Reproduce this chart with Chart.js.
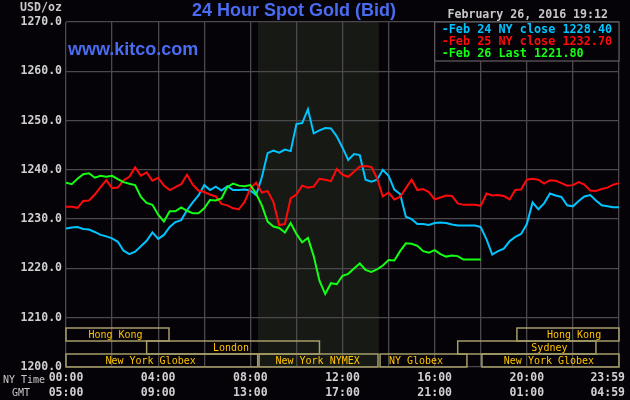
<!DOCTYPE html>
<html>
<head>
<meta charset="utf-8">
<script src="https://cdn.jsdelivr.net/npm/chart.js@4.4.1/dist/chart.umd.min.js"></script>
<style>
  html, body { margin: 0; padding: 0; background: #050308; }
  canvas { display: block; }
</style>
</head>
<body>
<canvas id="c" width="630" height="400"></canvas>
<script>
// one reading every 15 minutes, NY time 00:00 -> 24:00
const stepHours = 0.25;

const feb24 = [
  1228.1, 1228.3, 1228.4, 1228.0, 1227.9, 1227.4, 1226.8, 1226.5, 1226.1, 1225.4,
  1223.6, 1222.9, 1223.4, 1224.5, 1225.6, 1227.3, 1226.0, 1226.8, 1228.4, 1229.4,
  1229.8, 1231.8, 1233.4, 1234.8, 1236.9, 1235.9, 1236.6, 1235.8, 1236.7, 1235.9,
  1235.9, 1236.0, 1235.8, 1234.9, 1238.5, 1243.4, 1243.9, 1243.5, 1244.1, 1243.8,
  1249.3, 1249.5, 1252.3, 1247.4, 1248.0, 1248.5, 1248.4, 1246.8, 1244.5, 1242.0,
  1243.2, 1243.0, 1238.0, 1237.6, 1238.0, 1240.0, 1238.8, 1236.0, 1235.1, 1230.5,
  1230.0, 1229.0, 1229.0, 1228.8, 1229.2, 1229.3, 1229.2, 1228.9, 1228.7, 1228.7,
  1228.7, 1228.7, 1228.4, 1225.9, 1222.8, 1223.5, 1224.0, 1225.5, 1226.4, 1227.0,
  1229.0, 1233.4, 1232.0, 1233.2, 1235.2, 1234.8, 1234.5, 1232.8, 1232.6, 1233.7,
  1234.6, 1234.9, 1233.8, 1232.8, 1232.6, 1232.4, 1232.4
];

const feb25 = [
  1232.5, 1232.5, 1232.3, 1233.7, 1233.8, 1235.0, 1236.5, 1237.9, 1236.3, 1236.4,
  1237.9, 1238.6, 1240.5, 1238.8, 1239.5, 1237.8, 1238.4, 1236.8, 1235.9, 1236.5,
  1237.1, 1239.0, 1237.0, 1235.8, 1235.5, 1235.0, 1234.6, 1233.1, 1232.8, 1232.2,
  1232.0, 1233.5, 1236.2, 1237.4, 1235.4, 1235.7, 1233.5, 1228.8, 1229.0, 1234.2,
  1235.0, 1236.8, 1236.4, 1236.6, 1238.2, 1238.0, 1237.7, 1240.2, 1239.0, 1238.6,
  1239.6, 1240.7, 1240.8, 1240.6, 1238.3, 1234.6, 1235.4, 1234.0, 1234.5, 1236.3,
  1238.0, 1235.9, 1236.1, 1235.5, 1234.0, 1234.4, 1234.8, 1234.7, 1233.2, 1232.9,
  1232.9, 1232.9, 1232.7, 1235.2, 1234.8, 1234.9, 1234.7, 1234.0, 1235.9, 1236.0,
  1238.0, 1238.2, 1238.0, 1237.2, 1237.9, 1237.8, 1237.3, 1236.8, 1236.9, 1237.5,
  1237.0, 1235.8, 1235.7, 1236.1, 1236.4, 1237.0, 1237.3
];

const feb26 = [
  1237.4, 1237.1, 1238.2, 1239.1, 1239.3, 1238.4, 1238.8, 1238.6, 1238.8, 1238.1,
  1237.5, 1237.2, 1236.9, 1234.5, 1233.3, 1232.9, 1230.9, 1229.5, 1231.6, 1231.6,
  1232.4, 1231.7, 1231.2, 1231.2, 1232.2, 1233.9, 1233.8, 1234.2, 1236.5, 1237.2,
  1236.8, 1236.7, 1236.9, 1235.2, 1232.8, 1229.5, 1228.5, 1228.2, 1227.3, 1229.2,
  1227.0, 1225.3, 1226.2, 1222.5, 1217.5, 1214.8, 1217.0, 1216.8, 1218.5, 1218.9,
  1220.0, 1221.0, 1219.7, 1219.3, 1219.8, 1220.6, 1221.7, 1221.6, 1223.5, 1225.1,
  1225.0, 1224.6, 1223.5, 1223.2, 1223.7, 1222.9, 1222.4, 1222.6, 1222.5, 1221.8,
  1221.8, 1221.8, 1221.8
];

const seriesNames = ["Feb 24 NY close", "Feb 25 NY close", "Feb 26 Last"];
const seriesLast = ["1228.40", "1232.70", "1221.80"];
const seriesColors = ["#00c4ff", "#ff0a0a", "#14ff14"];

const nyLabels = ["00:00", "04:00", "08:00", "12:00", "16:00", "20:00", "23:59"];
const gmtLabels = ["05:00", "09:00", "13:00", "17:00", "21:00", "01:00", "04:59"];
const labelHours = [0, 4, 8, 12, 16, 20, 24];

// trading sessions (hours, NY time)
const sessionNames = ["Hong Kong", "London", "New York Globex", "New York NYMEX", "NY Globex", "Sydney", "New York Globex", "Hong Kong"];
const sessionRows = [0, 1, 2, 2, 2, 1, 2, 0];
const sessionStart = [0, 3.5, 0, 8.38, 13.63, 17.0, 18.05, 19.57];
const sessionEnd = [4.47, 11.0, 8.32, 13.54, 17.4, 23.0, 24, 24];
const sessionLabelAt = [2.15, 7.16, 3.67, 10.92, 15.19, 20.98, 20.96, 22.05];

const nymexOpen = 8.33;
const nymexClose = 13.58;

const mono = "'DejaVu Sans Mono', monospace";
const bg = "#050308";

const toPoints = (arr) => arr.map((v, i) => ({ x: i * stepHours, y: v }));

const kitcoPlugin = {
  id: "kitco",
  beforeDraw(chart) {
    const { ctx, chartArea: a, scales: { x } } = chart;
    ctx.save();
    ctx.fillStyle = bg;
    ctx.fillRect(0, 0, chart.width, chart.height);
    const x0 = x.getPixelForValue(nymexOpen);
    const x1 = x.getPixelForValue(nymexClose);
    ctx.fillStyle = "#171915";
    ctx.fillRect(x0, a.top, x1 - x0, a.bottom - a.top);
    ctx.restore();
  },
  afterDraw(chart) {
    const { ctx, chartArea: a, scales: { x } } = chart;
    ctx.save();

    // session boxes
    const rowH = 13;
    ctx.lineWidth = 1.5;
    ctx.strokeStyle = "#a69d68";
    ctx.font = "10px " + mono;
    ctx.textAlign = "center";
    ctx.textBaseline = "middle";
    sessionNames.forEach((name, i) => {
      const top = a.bottom - (3 - sessionRows[i]) * rowH;
      const xs = x.getPixelForValue(sessionStart[i]);
      const xe = x.getPixelForValue(sessionEnd[i]);
      ctx.strokeRect(xs, top, xe - xs, rowH);
      ctx.fillStyle = "#ffc400";
      ctx.fillText(name, x.getPixelForValue(sessionLabelAt[i]), top + rowH / 2 + 0.5);
    });

    // legend box
    const lx = x.getPixelForValue(16);
    ctx.fillStyle = bg;
    ctx.fillRect(lx, a.top, a.right - lx, 39);
    ctx.strokeStyle = "#5a585a";
    ctx.lineWidth = 1.3;
    ctx.strokeRect(lx, a.top, a.right - lx, 39);
    ctx.font = "bold 11.8px " + mono;
    ctx.textAlign = "left";
    seriesNames.forEach((name, i) => {
      ctx.fillStyle = seriesColors[i];
      ctx.fillText("-" + name + " " + seriesLast[i], lx + 7, a.top + 7.5 + i * 12);
    });

    // titles
    ctx.fillStyle = "#4a6cf0";
    ctx.font = "bold 18px 'Liberation Sans', Arial, sans-serif";
    ctx.textAlign = "center";
    ctx.fillText("24 Hour Spot Gold (Bid)", 294, 11);
    ctx.textAlign = "left";
    ctx.textBaseline = "alphabetic";
    ctx.fillText("www.kitco.com", a.left + 2, 55);

    ctx.textBaseline = "middle";
    ctx.fillStyle = "#c8c8c8";
    ctx.font = "bold 11.6px " + mono;
    ctx.textAlign = "right";
    ctx.fillText("February 26, 2016 19:12", 608, 15);
    ctx.fillText("USD/oz", a.left - 4, 8);

    // time axis labels
    ctx.fillStyle = "#d0d0d0";
    ctx.font = "bold 11.5px " + mono;
    ctx.textAlign = "center";
    labelHours.forEach((h, i) => {
      const w = ctx.measureText(nyLabels[i]).width;
      const px = Math.min(x.getPixelForValue(h), chart.width - w / 2 - 5);
      ctx.fillText(nyLabels[i], px, a.bottom + 11);
      ctx.fillText(gmtLabels[i], px, a.bottom + 26);
    });
    ctx.fillStyle = "#c8c8c8";
    ctx.font = "10px " + mono;
    ctx.textAlign = "left";
    ctx.fillText("NY Time", 3, a.bottom + 13);
    ctx.textAlign = "center";
    ctx.fillText("GMT", 21, a.bottom + 26);

    ctx.restore();
  },
};

const gridStyle = { color: "#4b494b", lineWidth: 1.3, drawTicks: false };

new Chart(document.getElementById("c"), {
  type: "line",
  data: {
    datasets: [feb24, feb25, feb26].map((arr, i) => ({
      label: seriesNames[i],
      data: toPoints(arr),
      borderColor: seriesColors[i],
      borderWidth: 2,
      pointRadius: 0,
      tension: 0,
      order: 2 - i,
    })),
  },
  options: {
    responsive: false,
    animation: false,
    parsing: false,
    layout: { padding: { left: 0, top: 22, right: 11, bottom: 0 } },
    plugins: { legend: { display: false }, tooltip: { enabled: false } },
    scales: {
      x: {
        type: "linear",
        min: 0,
        max: 24,
        grid: gridStyle,
        border: { display: false },
        ticks: { display: false, stepSize: 2 },
        afterFit: (s) => { s.height = 33; },
      },
      y: {
        min: 1200,
        max: 1270,
        grid: gridStyle,
        border: { display: false },
        ticks: {
          stepSize: 10,
          padding: 4,
          color: "#d0d0d0",
          font: { family: mono, size: 11.5, weight: "bold" },
          callback: (v) => v.toFixed(1),
        },
        afterFit: (s) => { s.width = 66; },
      },
    },
  },
  plugins: [kitcoPlugin],
});
</script>
</body>
</html>
